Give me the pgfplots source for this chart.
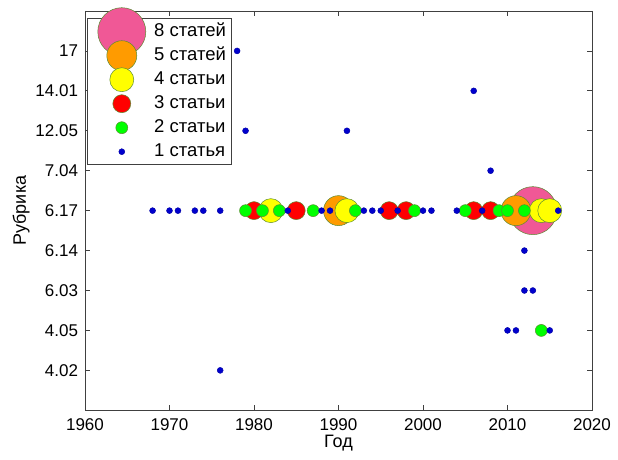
\documentclass[border=0pt]{standalone}
\usepackage{fontspec}
\setmainfont{Liberation Sans}
\usepackage{pgfplots}
\pgfplotsset{compat=1.18}
\definecolor{cpink}{RGB}{240,88,150}
\definecolor{corange}{RGB}{255,155,0}
\definecolor{cyellow}{RGB}{255,255,0}
\definecolor{cred}{RGB}{255,0,0}
\definecolor{cgreen}{RGB}{0,255,0}
\definecolor{cblue}{RGB}{0,0,205}
\definecolor{cedge}{RGB}{90,140,50}
\newcommand{\tickfont}{\fontsize{17}{20}\selectfont}
\newcommand{\labfont}{\fontsize{18}{21}\selectfont}
\newcommand{\legfont}{\fontsize{18.5}{22}\selectfont}
\begin{document}
\begin{tikzpicture}
\path[use as bounding box] (-85pt,-49pt) rectangle (533pt,410.3pt);
\begin{axis}[
  scale only axis, width=507pt, height=399.3pt,
  xmin=1960, xmax=2020, ymin=0, ymax=10,
  xtick={1960,1970,...,2020},
  ytick={1,...,9},
  yticklabels={4.02,4.05,6.03,6.14,6.17,7.04,12.05,14.01,17},
  /pgf/number format/assume math mode=true,
  /pgf/number format/1000 sep={},
  tick label style={font=\tickfont},
  xticklabel style={yshift=-4.5pt},
  yticklabel style={xshift=-3.5pt},
  tick align=inside, tick pos=both, major tick length=5pt,
  axis line style={black!75, line width=0.8pt},
  tick style={black!75, line width=0.8pt},
  xlabel={Год}, ylabel={Рубрика},
  every axis x label/.style={font=\labfont, at={(axis description cs:0.5,-0.082)}, anchor=center},
  every axis y label/.style={font=\labfont, at={(axis description cs:-0.126,0.5)}, rotate=90, anchor=center},
  legend cell align=left,
  legend style={font=\legfont, at={(axis description cs:0,1)}, anchor=north west, xshift=2pt, yshift=-7.3pt,
    draw=black!75, line width=0.8pt, fill=white, inner sep=3pt, row sep=4pt,
    nodes={inner sep=2pt, text height=12.5pt, text depth=3.5pt}},
  legend image code/.code={\path (0pt,0pt) (61pt,0pt);
    \draw[overlay,mark repeat=2,mark phase=2,#1] plot coordinates {(0pt,0pt)(31pt,0pt)(62pt,0pt)};},
]
\addplot[only marks, mark=*, mark size=24pt, mark options={fill=cpink, draw=cedge, line width=0.5pt}]
  coordinates {(2013,5)};
\addlegendentry{8 статей}
\addplot[only marks, mark=*, mark size=15pt, mark options={fill=corange, draw=cedge, line width=0.5pt}]
  coordinates {(1990,5) (2011,5)};
\addlegendentry{5 статей}
\addplot[only marks, mark=*, mark size=12pt, mark options={fill=cyellow, draw=cedge, line width=0.5pt}]
  coordinates {(1982,5) (1991,5) (2014,5) (2015,5)};
\addlegendentry{4 статьи}
\addplot[only marks, mark=*, mark size=9pt, mark options={fill=cred, draw=cedge, line width=0.5pt}]
  coordinates {(1980,5) (1985,5) (1996,5) (1998,5) (2006,5) (2008,5)};
\addlegendentry{3 статьи}
\addplot[only marks, mark=*, mark size=6pt, mark options={fill=cgreen, draw=cedge, line width=0.5pt}]
  coordinates {(1979,5) (1981,5) (1983,5) (1987,5) (1992,5) (1999,5) (2005,5) (2009,5) (2010,5) (2012,5) (2014,2)};
\addlegendentry{2 статьи}
\addplot[only marks, mark=*, mark size=3pt, mark options={fill=cblue, draw=cblue!80!black, line width=0.4pt}]
  coordinates {(1968,5) (1970,5) (1971,5) (1973,5) (1974,5) (1976,5) (1984,5) (1988,5) (1989,5)
    (1993,5) (1994,5) (1995,5) (1997,5) (2000,5) (2001,5) (2004,5) (2007,5) (2016,5)
    (1978,9) (2006,8) (1979,7) (1991,7) (2008,6) (2012,4) (2012,3) (2013,3)
    (2010,2) (2011,2) (2015,2) (1976,1)};
\addlegendentry{1 статья}
\end{axis}
\end{tikzpicture}
\end{document}
